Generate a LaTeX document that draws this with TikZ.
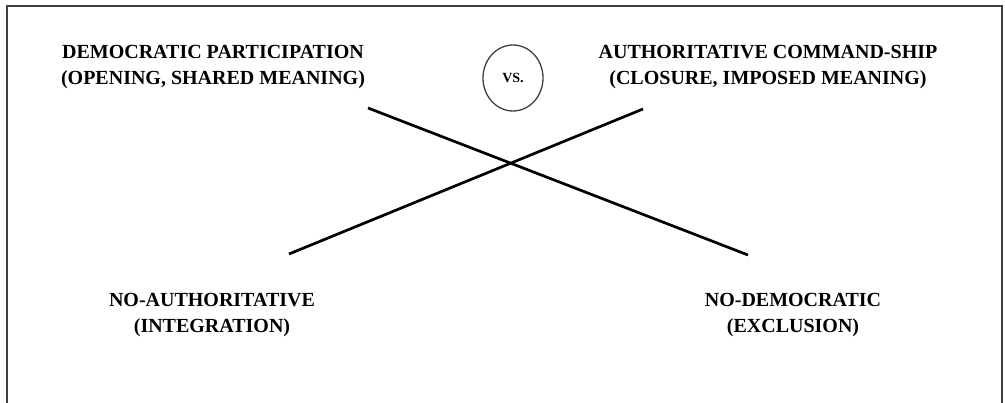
\documentclass[tikz,border=0pt]{standalone}
\usepackage{fontspec}
\setmainfont{Liberation Serif}
\usepackage{tikz}
\usetikzlibrary{calc}
\usetikzlibrary{positioning,shapes.geometric}

\begin{document}
\begin{tikzpicture}[x=1pt, y=-1pt,
        label/.style={align=center, font=\fontsize{20}{26}\selectfont\bfseries, inner sep=0pt},
        bar/.style={line width=2.7pt}]
        \useasboundingbox (0,0) rectangle (1005,403);
        \clip (0,0) rectangle (1005,403);
        \draw[line width=1.4pt, black!75] (7,420) -- (7,6) -- (1002,6) -- (1002,420);
        \node[label] (dem) at (213,67) {DEMOCRATIC PARTICIPATION\\(OPENING, SHARED MEANING)};
        \node[label] (auth) at (768,67) {AUTHORITATIVE COMMAND-SHIP\\(CLOSURE, IMPOSED MEANING)};
        \node[label] (noauth) at (212,315) {NO-AUTHORITATIVE\\(INTEGRATION)};
        \node[label] (nodem) at (793,315) {NO-DEMOCRATIC\\(EXCLUSION)};
        \node[ellipse, draw=black!75, line width=1.3pt, minimum width=60pt, minimum height=66pt, inner sep=0pt,
              font=\fontsize{14}{16}\selectfont\bfseries] (vs) at (513,78) {VS.};
        \coordinate (a1) at (368,108);
        \coordinate (a2) at (748,255);
        \coordinate (b1) at (289,254);
        \coordinate (b2) at (643,109);
        \draw[bar] (a1) -- (a2);
        \draw[bar] (b1) -- (b2);
    \end{tikzpicture}
\end{document}
